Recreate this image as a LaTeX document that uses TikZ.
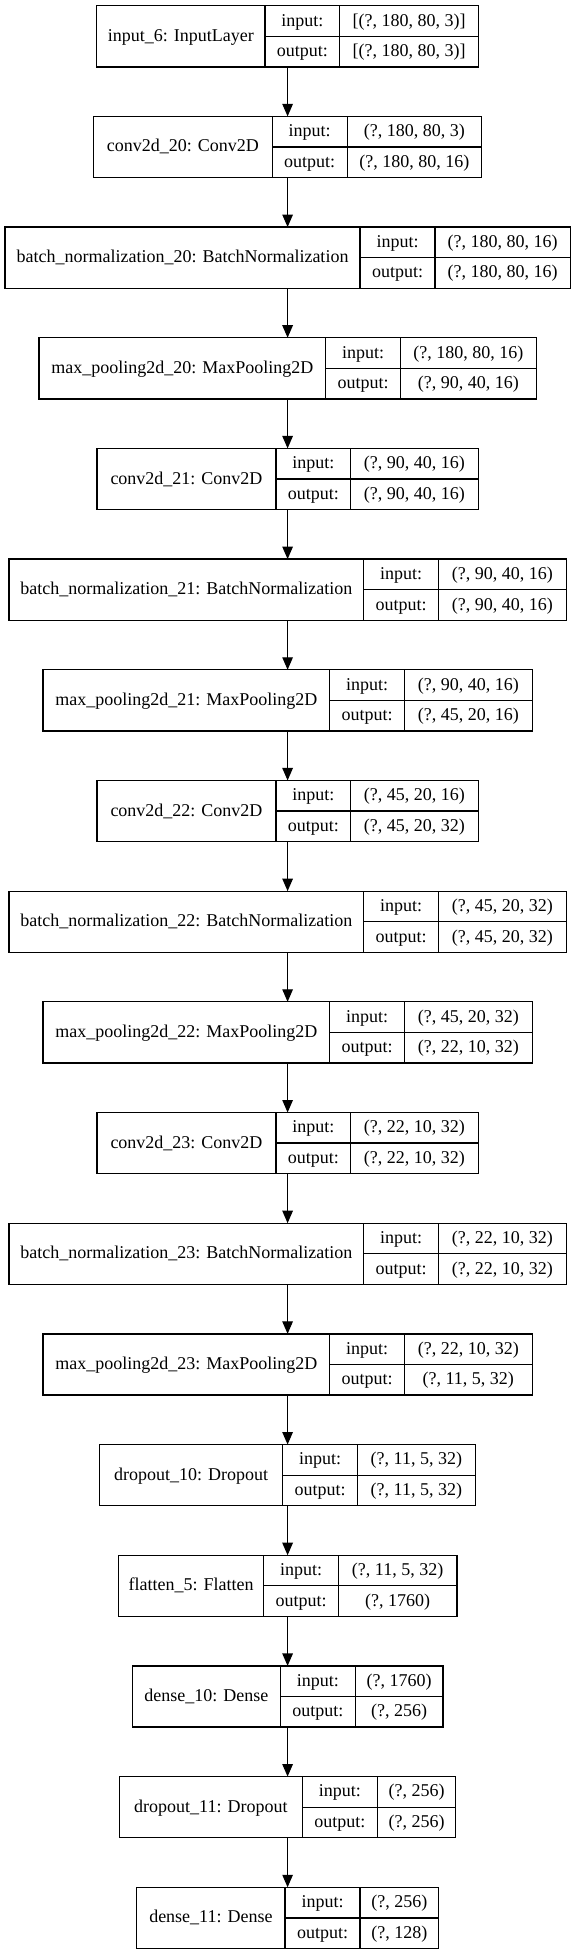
\documentclass[tikz,border=0pt]{standalone}
\usepackage{fontspec}
\setmainfont{Liberation Serif}
\usetikzlibrary{arrows.meta}
\tikzset{
  box/.style={draw=black, line width=1.3pt, rectangle, inner sep=0pt, outer sep=0pt},
  cell/.style={draw=black, line width=1.3pt},
  lbl/.style={anchor=base, inner sep=0pt, font=\fontsize{18}{21}\selectfont},
  arr/.style={-{Triangle[length=12.5pt,width=10.5pt]}, line width=1.2pt},
}
\newcommand\mylayer[7]{%
  \pgfmathsetmacro\Ltop{5.7+110.68*(#1-1)}%
  \pgfmathsetmacro\Lbot{\Ltop+61.2}%
  \pgfmathsetmacro\Lmid{\Ltop+30.6}%
  \pgfmathsetmacro\Lxr{2*287.6-#2}%
  \pgfmathsetmacro\Lw{\Lxr-#2}%
  \node[box, minimum width=\Lw pt, minimum height=61.2pt] (b#1) at (287.6,\Lmid) {};
  \draw[cell] (#3,\Ltop) -- (#3,\Lbot) (#4,\Ltop) -- (#4,\Lbot) (#3,\Lmid) -- (\Lxr,\Lmid);
  \node[lbl] (b#1n) at ({(#2+#3)/2},\Lmid+5) {#5};
  \node[lbl] (b#1ik) at ({(#3+#4)/2},\Ltop+20.3) {input:};
  \node[lbl] (b#1ok) at ({(#3+#4)/2},\Lmid+20.3) {output:};
  \node[lbl] (b#1iv) at ({(#4+\Lxr)/2},\Ltop+20.3) {#6};
  \node[lbl] (b#1ov) at ({(#4+\Lxr)/2},\Lmid+20.3) {#7};
}
\begin{document}
\begin{tikzpicture}[x=1pt,y=-1pt]
\useasboundingbox[fill=white] (0,0) rectangle (575,1955);
\mylayer{1}{96.6}{264.9}{339.8}{input\_6: InputLayer}{[(?, 180, 80, 3)]}{[(?, 180, 80, 3)]}
\mylayer{2}{93.7}{272.2}{347.2}{conv2d\_20: Conv2D}{(?, 180, 80, 3)}{(?, 180, 80, 16)}
\mylayer{3}{5}{360}{435}{batch\_normalization\_20: BatchNormalization}{(?, 180, 80, 16)}{(?, 180, 80, 16)}
\mylayer{4}{39}{325.7}{400.3}{max\_pooling2d\_20: MaxPooling2D}{(?, 180, 80, 16)}{(?, 90, 40, 16)}
\mylayer{5}{97}{276}{350.7}{conv2d\_21: Conv2D}{(?, 90, 40, 16)}{(?, 90, 40, 16)}
\mylayer{6}{9}{363.7}{438.7}{batch\_normalization\_21: BatchNormalization}{(?, 90, 40, 16)}{(?, 90, 40, 16)}
\mylayer{7}{43}{329.7}{404.3}{max\_pooling2d\_21: MaxPooling2D}{(?, 90, 40, 16)}{(?, 45, 20, 16)}
\mylayer{8}{97}{276}{350.7}{conv2d\_22: Conv2D}{(?, 45, 20, 16)}{(?, 45, 20, 32)}
\mylayer{9}{9}{363.7}{438.7}{batch\_normalization\_22: BatchNormalization}{(?, 45, 20, 32)}{(?, 45, 20, 32)}
\mylayer{10}{43}{329.7}{404.3}{max\_pooling2d\_22: MaxPooling2D}{(?, 45, 20, 32)}{(?, 22, 10, 32)}
\mylayer{11}{97}{276}{350.7}{conv2d\_23: Conv2D}{(?, 22, 10, 32)}{(?, 22, 10, 32)}
\mylayer{12}{9}{363.7}{438.7}{batch\_normalization\_23: BatchNormalization}{(?, 22, 10, 32)}{(?, 22, 10, 32)}
\mylayer{13}{43}{329.7}{404.3}{max\_pooling2d\_23: MaxPooling2D}{(?, 22, 10, 32)}{(?, 11, 5, 32)}
\mylayer{14}{99.7}{282.7}{357.3}{dropout\_10: Dropout}{(?, 11, 5, 32)}{(?, 11, 5, 32)}
\mylayer{15}{118.3}{263.7}{338.3}{flatten\_5: Flatten}{(?, 11, 5, 32)}{(?, 1760)}
\mylayer{16}{132.3}{280.3}{355.3}{dense\_10: Dense}{(?, 1760)}{(?, 256)}
\mylayer{17}{119.4}{302.4}{377.3}{dropout\_11: Dropout}{(?, 256)}{(?, 256)}
\mylayer{18}{136.7}{285.1}{360.1}{dense\_11: Dense}{(?, 256)}{(?, 128)}
\foreach \i [evaluate=\i as \j using int(\i+1)] in {1,...,17}
  \draw[arr] (b\i.south) -- (b\j.north);
\end{tikzpicture}
\end{document}
